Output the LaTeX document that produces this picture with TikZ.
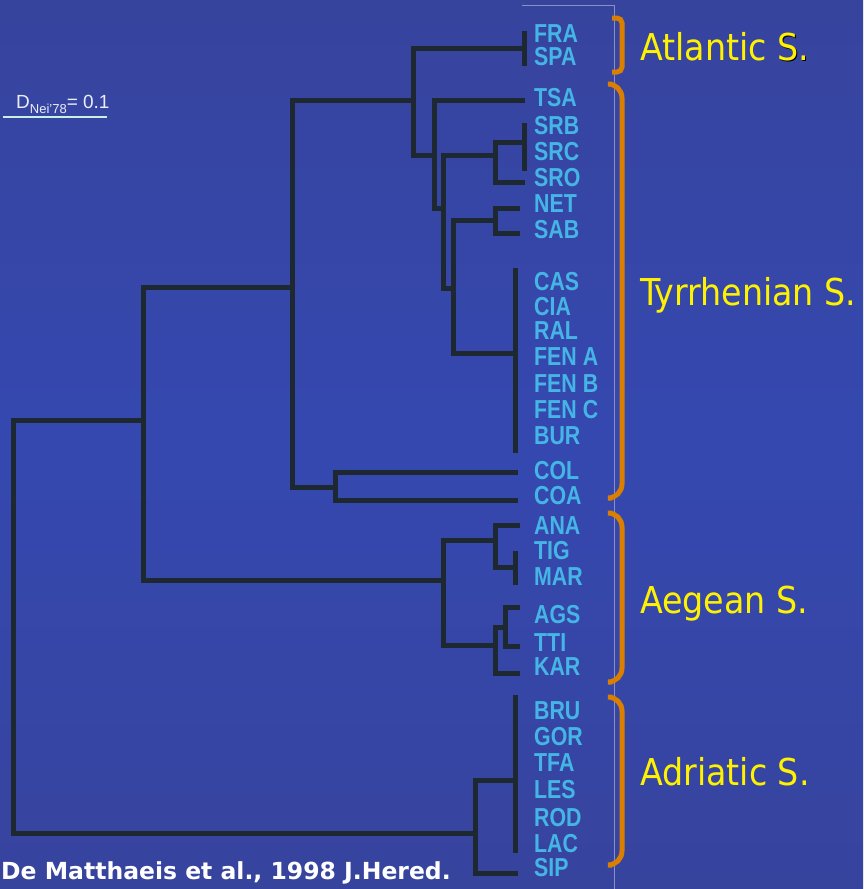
\documentclass[tikz,border=0pt]{standalone}
\usepackage{fontspec}
\setmainfont{Liberation Sans}
\newfontfamily\labfont[FakeStretch=0.82]{Liberation Sans}
\newfontfamily\regfont{DejaVu Sans Condensed}
\newfontfamily\citefont{DejaVu Sans}
\definecolor{bgedge}{HTML}{3A3E82}
\definecolor{bgmid}{HTML}{3548B0}
\definecolor{linecol}{HTML}{1E2830}
\definecolor{labcol}{HTML}{45B5E5}
\definecolor{bracecol}{HTML}{DB7F00}
\definecolor{framecol}{HTML}{8A90C0}
\definecolor{scalecol}{HTML}{C8F2E0}
\definecolor{txtcol}{HTML}{ECEEF6}
\pgfdeclareverticalshading{slidebg}{100bp}{color(0bp)=(bgedge); color(25bp)=(bgedge!40!bgmid); color(50bp)=(bgmid); color(75bp)=(bgedge!40!bgmid); color(100bp)=(bgedge)}
\tikzset{
  branch/.style={line width=5pt, draw=linecol, line cap=rect, line join=miter},
  leaf/.style={font={\labfont\bfseries\fontsize{26}{26}\selectfont}, text=labcol, anchor=base west, inner sep=0pt, text height=18pt, text depth=0pt},
  region/.style={font={\regfont\fontsize{37}{37}\selectfont}, text=yellow, anchor=base west, inner sep=0pt},
  brace/.style={line width=5pt, draw=bracecol, rounded corners=14pt, line cap=butt},
}
\begin{document}
\begin{tikzpicture}[x=1pt,y=-1pt]
\useasboundingbox (0,0) rectangle (863,889);
\shade[shading=slidebg] (0,0) rectangle (863,889);
% frame of inset
\coordinate (frA) at (522,5);
\coordinate (frB) at (614,5);
\coordinate (frC) at (614,889);
\draw[framecol, line width=1pt] (frA) -- (frB) -- (frC);

% scale bar
\node[anchor=base west, inner sep=0pt, text=txtcol, font={\fontsize{19}{19}\selectfont}] (scale) at (16,108)
  {D\raisebox{-5pt}{\fontsize{13}{13}\selectfont Nei'78}= 0.1};
\coordinate (sbL) at (3,117);
\coordinate (sbR) at (107,117);
\draw[scalecol, line width=1.5pt] (sbL) -- (sbR);

% leaf labels
\node[leaf] (FRA) at (534,42) {FRA};
\node[leaf] (SPA) at (534,65) {SPA};
\node[leaf] (TSA) at (534,106) {TSA};
\node[leaf] (SRB) at (534,134) {SRB};
\node[leaf] (SRC) at (534,160) {SRC};
\node[leaf] (SRO) at (534,186) {SRO};
\node[leaf] (NET) at (534,212) {NET};
\node[leaf] (SAB) at (534,238) {SAB};
\node[leaf] (CAS) at (534,290) {CAS};
\node[leaf] (CIA) at (534,315) {CIA};
\node[leaf] (RAL) at (534,339) {RAL};
\node[leaf] (FENA) at (534,365) {FEN A};
\node[leaf] (FENB) at (534,392) {FEN B};
\node[leaf] (FENC) at (534,418) {FEN C};
\node[leaf] (BUR) at (534,444) {BUR};
\node[leaf] (COL) at (534,479) {COL};
\node[leaf] (COA) at (534,504) {COA};
\node[leaf] (ANA) at (534,534) {ANA};
\node[leaf] (TIG) at (534,559) {TIG};
\node[leaf] (MAR) at (534,585) {MAR};
\node[leaf] (AGS) at (534,623) {AGS};
\node[leaf] (TTI) at (534,651) {TTI};
\node[leaf] (KAR) at (534,675) {KAR};
\node[leaf] (BRU) at (534,719) {BRU};
\node[leaf] (GOR) at (534,745) {GOR};
\node[leaf] (TFA) at (534,771) {TFA};
\node[leaf] (LES) at (534,798) {LES};
\node[leaf] (ROD) at (534,826) {ROD};
\node[leaf] (LAC) at (534,852) {LAC};
\node[leaf] (SIP) at (534,876) {SIP};

% tree coordinates
\coordinate (fs) at (524,48);
\coordinate (fsTop) at (524,33);
\coordinate (fsBot) at (524,63);
\coordinate (A1) at (413,100);
\coordinate (T1) at (434,155);
\coordinate (tsaE) at (522,100);
\coordinate (T2) at (443,208);
\coordinate (S1) at (495,155);
\coordinate (sbc) at (524,142);
\coordinate (sbcTop) at (524,125);
\coordinate (sbcBot) at (524,168);
\coordinate (sroE) at (522,182);
\coordinate (T3) at (453,288);
\coordinate (NS) at (495,220);
\coordinate (netE) at (517,208);
\coordinate (sabE) at (517,233);
\coordinate (CB) at (515,353);
\coordinate (cbTop) at (515,270);
\coordinate (cbBot) at (515,450);
\coordinate (R2) at (292,287);
\coordinate (CC) at (335,487);
\coordinate (colE) at (515,472);
\coordinate (coaE) at (515,500);
\coordinate (R1) at (143,420);
\coordinate (AE) at (443,580);
\coordinate (AE1) at (495,540);
\coordinate (anaE) at (517,525);
\coordinate (TM) at (515,567);
\coordinate (tmTop) at (515,553);
\coordinate (tmBot) at (515,582);
\coordinate (AE2) at (495,645);
\coordinate (AT) at (505,627);
\coordinate (agsE) at (517,607);
\coordinate (ttiE) at (517,646);
\coordinate (karE) at (517,673);
\coordinate (root) at (13,626);
\coordinate (AD) at (475,833);
\coordinate (BR) at (515,780);
\coordinate (brTop) at (515,697);
\coordinate (brBot) at (515,850);
\coordinate (sipE) at (515,873);

% branches
\draw[branch] (fsTop) -- (fsBot);
\draw[branch] (sbcTop) -- (sbcBot);
\draw[branch] (cbTop) -- (cbBot);
\draw[branch] (tmTop) -- (tmBot);
\draw[branch] (brTop) -- (brBot);
\draw[branch] (sbc) -| (S1);
\draw[branch] (sroE) -| (S1);
\draw[branch] (netE) -| (NS);
\draw[branch] (sabE) -| (NS);
\draw[branch] (NS) -| (T3);
\draw[branch] (CB) -| (T3);
\draw[branch] (S1) -| (T2);
\draw[branch] (T3) -| (T2);
\draw[branch] (tsaE) -| (T1);
\draw[branch] (T2) -| (T1);
\draw[branch] (fs) -| (A1);
\draw[branch] (T1) -| (A1);
\draw[branch] (colE) -| (CC);
\draw[branch] (coaE) -| (CC);
\draw[branch] (A1) -| (R2);
\draw[branch] (CC) -| (R2);
\draw[branch] (anaE) -| (AE1);
\draw[branch] (TM) -| (AE1);
\draw[branch] (agsE) -| (AT);
\draw[branch] (ttiE) -| (AT);
\draw[branch] (AT) -| (AE2);
\draw[branch] (karE) -| (AE2);
\draw[branch] (AE1) -| (AE);
\draw[branch] (AE2) -| (AE);
\draw[branch] (R2) -| (R1);
\draw[branch] (AE) -| (R1);
\draw[branch] (BR) -| (AD);
\draw[branch] (sipE) -| (AD);
\draw[branch] (R1) -| (root);
\draw[branch] (AD) -| (root);

% brackets
\draw[brace, rounded corners=5pt] (612,18) -- (622,18) -- (622,72) -- (612,72);
\draw[brace] (612,84) -- (622,84) -- (622,498) -- (612,498);
\draw[brace] (612,513) -- (622,513) -- (622,682) -- (612,682);
\draw[brace] (612,697) -- (622,697) -- (622,865) -- (612,865);

% region labels
\node[region] (atl) at (640,60) {Atlantic \rlap{\kern1.5pt\raisebox{-1.5pt}{\color{black}S.}}S.};
\node[region] (tyr) at (640,305) {Tyrrhenian S.};
\node[region] (aeg) at (640,613) {Aegean S.};
\node[region] (adr) at (640,785) {Adriatic S.};

% citation
\node[anchor=base west, inner sep=0pt, text=white, font={\citefont\bfseries\fontsize{23.5}{23.5}\selectfont}] (cite) at (1,879)
  {De Matthaeis et al., 1998 J.Hered.};
\end{tikzpicture}
\end{document}
